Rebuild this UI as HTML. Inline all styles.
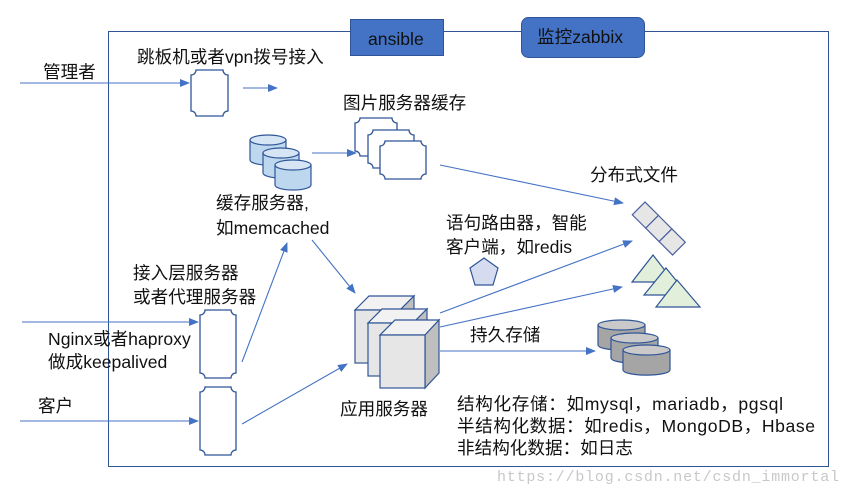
<!DOCTYPE html>
<html><head><meta charset="utf-8"><style>
html,body{margin:0;padding:0;background:#fff;}
svg{display:block;}
text{font-family:"Liberation Sans","Noto Sans CJK SC",sans-serif;font-size:17.6px;fill:#111;}
</style></head><body>
<svg width="854" height="495" viewBox="0 0 854 495" xmlns="http://www.w3.org/2000/svg">
<defs>
<marker id="a" markerWidth="10" markerHeight="8" refX="9" refY="4" orient="auto" markerUnits="userSpaceOnUse"><path d="M0,0 L10,4 L0,8 Z" fill="#4472c4"/></marker>
</defs>
<rect x="108.5" y="31.5" width="720" height="435" fill="none" stroke="#2f5597" stroke-width="1"/>
<rect x="350.5" y="19.5" width="93" height="36" fill="#4472c4" stroke="#2f5597"/>
<text x="368" y="45">ansible</text>
<rect x="521.5" y="17.5" width="123" height="40" rx="7" fill="#4472c4" stroke="#2f5597"/>
<text x="537" y="43">监控zabbix</text>

<g fill="none" stroke="#4472c4" stroke-width="1.1">
<line x1="20" y1="83" x2="189" y2="83" marker-end="url(#a)"/>
<line x1="243" y1="88" x2="277" y2="88" marker-end="url(#a)"/>
<line x1="312" y1="153" x2="356" y2="153" marker-end="url(#a)"/>
<line x1="440" y1="165" x2="623" y2="203" marker-end="url(#a)"/>
<line x1="440" y1="313" x2="632" y2="241" marker-end="url(#a)"/>
<line x1="440" y1="327" x2="622" y2="287" marker-end="url(#a)"/>
<line x1="440" y1="351" x2="595" y2="351" marker-end="url(#a)"/>
<line x1="22" y1="322" x2="198" y2="322" marker-end="url(#a)"/>
<line x1="20" y1="421" x2="198" y2="421" marker-end="url(#a)"/>
<line x1="242" y1="362" x2="287" y2="243" marker-end="url(#a)"/>
<line x1="242" y1="424" x2="347" y2="364" marker-end="url(#a)"/>
<line x1="312" y1="240" x2="355" y2="293" marker-end="url(#a)"/>
</g>

<g fill="#fff" stroke="#2f5597" stroke-width="1.3">
<path d="M196,70 H223 A5,5 0 0 0 228,75 V111 A5,5 0 0 0 223,116 H196 A5,5 0 0 0 191,111 V75 A5,5 0 0 0 196,70 Z"/>
<path d="M360,118 H392 A5,5 0 0 0 397,123 V151 A5,5 0 0 0 392,156 H360 A5,5 0 0 0 355,151 V123 A5,5 0 0 0 360,118 Z"/>
<path d="M373,130 H409 A5,5 0 0 0 414,135 V163 A5,5 0 0 0 409,168 H373 A5,5 0 0 0 368,163 V135 A5,5 0 0 0 373,130 Z"/>
<path d="M385,141 H421 A5,5 0 0 0 426,146 V174 A5,5 0 0 0 421,179 H385 A5,5 0 0 0 380,174 V146 A5,5 0 0 0 385,141 Z"/>
<path d="M205,310 H231 A5,5 0 0 0 236,315 V373 A5,5 0 0 0 231,378 H205 A5,5 0 0 0 200,373 V315 A5,5 0 0 0 205,310 Z"/>
<path d="M205,387 H231 A5,5 0 0 0 236,392 V450 A5,5 0 0 0 231,455 H205 A5,5 0 0 0 200,450 V392 A5,5 0 0 0 205,387 Z"/>
</g>

<g fill="#bdd7ee" stroke="#2f5597" stroke-width="1.2">
<path d="M250,140 V160 A18,5 0 0 0 286,160 V140"/><ellipse cx="268" cy="140" rx="18" ry="5" fill="#d6e5f4"/>
<path d="M263,153 V173 A18,5 0 0 0 299,173 V153"/><ellipse cx="281" cy="153" rx="18" ry="5" fill="#d6e5f4"/>
<path d="M275,165 V185 A18,5 0 0 0 311,185 V165"/><ellipse cx="293" cy="165" rx="18" ry="5" fill="#d6e5f4"/>
</g>

<g stroke="#2f5597" stroke-width="1.2">
<g><path d="M355,310 L369,296 H414 L400,310 Z" fill="#f2f2f2"/><path d="M400,310 L414,296 V349 L400,363 Z" fill="#bfbfbf"/><rect x="355" y="310" width="45" height="53" fill="#e7e6e6"/></g>
<g><path d="M368,323 L382,309 H427 L413,323 Z" fill="#f2f2f2"/><path d="M413,323 L427,309 V362 L413,376 Z" fill="#bfbfbf"/><rect x="368" y="323" width="45" height="53" fill="#e7e6e6"/></g>
<g><path d="M380,335 L395,320 H439 L425,335 Z" fill="#f2f2f2"/><path d="M425,335 L439,320 V373 L425,388 Z" fill="#bfbfbf"/><rect x="380" y="335" width="45" height="53" fill="#e7e6e6"/></g>
</g>

<polygon points="484,258 498,268 493,285 475,285 470,268" fill="#d6dcf0" stroke="#2f5597" stroke-width="1.2"/>

<g transform="translate(645,202) rotate(45)" fill="#e7e6e6" stroke="#4a5fa0" stroke-width="1.2">
<rect x="0" y="0" width="19" height="18"/><rect x="19" y="0" width="19" height="18"/><rect x="38" y="0" width="19" height="18"/>
</g>

<g fill="#e2efda" stroke="#2f5597" stroke-width="1.2">
<polygon points="653,255 674,282 632,282"/>
<polygon points="666,268 688,295 644,295"/>
<polygon points="677,280 700,307 656,307"/>
</g>

<g fill="#a5a5a5" stroke="#2f5597" stroke-width="1.2">
<path d="M598,325 V345 A23,5 0 0 0 645,345 V325"/><ellipse cx="621.5" cy="325" rx="23.5" ry="5" fill="#c9c9c9"/>
<path d="M611,338 V358 A23,5 0 0 0 658,358 V338"/><ellipse cx="634.5" cy="338" rx="23.5" ry="5" fill="#c9c9c9"/>
<path d="M623,350 V370 A23,5 0 0 0 670,370 V350"/><ellipse cx="646.5" cy="350" rx="23.5" ry="5" fill="#c9c9c9"/>
</g>

<text x="43" y="78">管理者</text>
<text x="137" y="63">跳板机或者vpn拨号接入</text>
<text x="343" y="109">图片服务器缓存</text>
<text x="216" y="209">缓存服务器,</text>
<text x="216" y="234">如memcached</text>
<text x="590" y="181">分布式文件</text>
<text x="446" y="229">语句路由器，智能</text>
<text x="446" y="253">客户端，如redis</text>
<text x="133" y="279">接入层服务器</text>
<text x="133" y="303">或者代理服务器</text>
<text x="48" y="345">Nginx或者haproxy</text>
<text x="48" y="368">做成keepalived</text>
<text x="38" y="412">客户</text>
<text x="470" y="341">持久存储</text>
<text x="340" y="415">应用服务器</text>
<text x="457" y="410" textLength="326">结构化存储：如mysql，mariadb，pgsql</text>
<text x="457" y="432" textLength="358">半结构化数据：如redis，MongoDB，Hbase</text>
<text x="457" y="454">非结构化数据：如日志</text>
<text x="497" y="481" textLength="342" style="font-family:'Liberation Mono',monospace;font-size:15px;fill:#c8c8c8">https://blog.csdn.net/csdn_immortal</text>
</svg>
</body></html>
